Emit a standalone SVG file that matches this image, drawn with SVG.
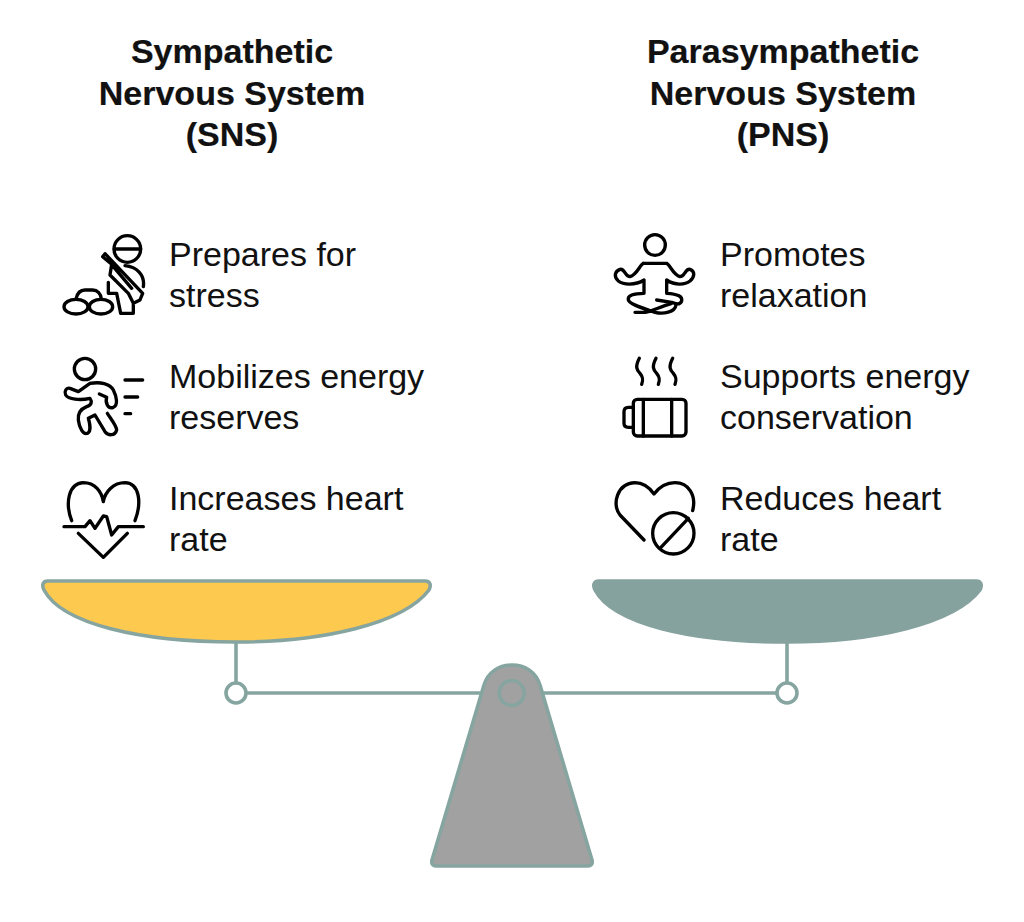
<svg xmlns="http://www.w3.org/2000/svg" width="1024" height="922" viewBox="0 0 1024 922">
<style>
.t{font-family:"Liberation Sans",Arial,sans-serif;font-weight:700;font-size:34px;fill:#111;text-anchor:middle;stroke:#111;stroke-width:.2}
.b{font-family:"Liberation Sans",Arial,sans-serif;font-size:34px;fill:#111}
.i{fill:none;stroke:#000;stroke-width:10;stroke-linecap:round;stroke-linejoin:round}
.s{stroke:#86a5a0;stroke-width:3.6;fill:none}
</style>
<rect width="1024" height="922" fill="#fff"/>
<g id="title-sns"><text class="t" x="232" y="63">Sympathetic</text><text class="t" x="232" y="105">Nervous System</text><text class="t" x="232" y="146">(SNS)</text></g>
<g id="title-pns"><text class="t" x="783" y="63">Parasympathetic</text><text class="t" x="783" y="105">Nervous System</text><text class="t" x="783" y="146">(PNS)</text></g>
<g id="connectors">
<path class="s" d="M236 642V683M787 642V683M246 693H488M535 693H777"/>
</g>
<g id="pan-left"><path class="s" style="fill:#fdc94f" d="M48 581H425C431 581 431 586 429 590C403 624 322 642 236 642C140 642 62 624 44 590C42 586 42 581 48 581Z"/></g>
<g id="pan-right"><path style="fill:#86a29e;stroke:#86a29e;stroke-width:3.6" d="M599 581H976C982 581 982 586 980 590C954 624 873 642 787 642C691 642 613 624 595 590C593 586 593 581 599 581Z"/></g>
<g id="hinge-left"><circle class="s" style="fill:#fff" cx="236" cy="693" r="10"/></g>
<g id="hinge-right"><circle class="s" style="fill:#fff" cx="787" cy="693" r="10"/></g>
<g id="stand"><path class="s" style="fill:#a1a1a1" d="M484 685C488 672 499 665 512 665C525 665 536 672 540 685L592 860C593 864 591 866 588 866H436C433 866 431 864 432 860Z"/><circle class="s" cx="511.700" cy="693" r="12.500"/></g>
<g id="item-stress"><g class="i" transform="translate(50 225) scale(.33333)"><circle cx="232" cy="72" r="40"/><path d="M193 72H272M158 95L165 86L190 112L278 205L270 225L250 235L235 205L180 150L185 118ZM190 125L245 190M225 122C260 125 285 150 280 185M175 172V205H200L212 265H250V235"/><ellipse cx="78" cy="245" rx="36" ry="22"/><ellipse cx="153" cy="245" rx="35" ry="22"/><path d="M78 222C82 203 92 195 105 195H128C142 195 152 205 154 222"/></g><text class="b" x="169" y="265.500">Prepares for</text><text class="b" x="169" y="306.500">stress</text></g>
<g id="item-energy"><g class="i" transform="translate(50 350) scale(.33333)"><circle cx="105" cy="57" r="32"/><path d="M120 100L85 125L60 115C48 112 42 125 47 135C55 148 90 152 120 145C127 155 125 165 110 170C90 178 83 190 85 210C88 235 100 255 112 250C125 245 118 215 115 205L135 195L165 245C175 258 195 258 200 240C200 228 185 210 172 190M120 100C150 95 180 100 190 120C200 140 205 165 190 172C175 178 165 160 170 142L148 132M225 90H278M225 141H263M225 191H242"/></g><text class="b" x="169" y="387.500">Mobilizes energy</text><text class="b" x="169" y="428.500">reserves</text></g>
<g id="item-heart-up"><g class="i" transform="translate(50 470) scale(.33333)"><path d="M65 152C45 100 55 40 100 38C135 38 155 65 160 95C165 65 190 38 225 38C270 40 275 100 255 152M42 170H105L120 152L135 175L160 138L170 140L185 195L205 170H280M85 190L160 262L232 190"/></g><text class="b" x="169" y="509.500">Increases heart</text><text class="b" x="169" y="550.500">rate</text></g>
<g id="item-relax"><g class="i" transform="translate(600 225) scale(.33333)"><circle cx="165" cy="60" r="31"/><path d="M130 115H200C210 120 220 150 240 155C255 155 255 130 270 133C285 138 285 155 270 168C255 180 225 182 200 165V205C235 207 248 215 245 228C240 240 228 238 215 232L170 225M130 115C120 120 110 150 90 155C75 155 75 130 60 133C45 138 40 155 55 168C70 180 105 182 132 165V205C100 205 82 212 85 225C88 238 130 250 165 262C190 268 225 262 228 240M105 262H135C150 262 180 245 215 235"/></g><text class="b" x="720" y="265.500">Promotes</text><text class="b" x="720" y="306.500">relaxation</text></g>
<g id="item-battery"><g class="i" transform="translate(600 350) scale(.33333)"><path d="M118 25C105 50 110 60 120 70C130 82 130 90 125 103M168 25C155 50 160 60 170 70C180 82 180 90 175 103M218 25C205 50 210 60 220 70C230 82 230 90 225 103"/><rect x="100" y="148" width="158" height="110" rx="12"/><path d="M100 172H85C75 172 72 178 72 185V220C72 228 75 232 85 232H100M130 148V258M215 148V258"/></g><text class="b" x="720" y="387.500">Supports energy</text><text class="b" x="720" y="428.500">conservation</text></g>
<g id="item-heart-down"><g class="i" transform="translate(600 470) scale(.33333)"><path d="M132 210L60 135C35 105 50 40 105 38C130 38 150 55 162 72C175 55 195 38 225 38C265 38 290 75 278 122"/><circle cx="220" cy="190" r="62"/><path d="M265 145L180 235"/></g><text class="b" x="720" y="509.500">Reduces heart</text><text class="b" x="720" y="550.500">rate</text></g>
</svg>
